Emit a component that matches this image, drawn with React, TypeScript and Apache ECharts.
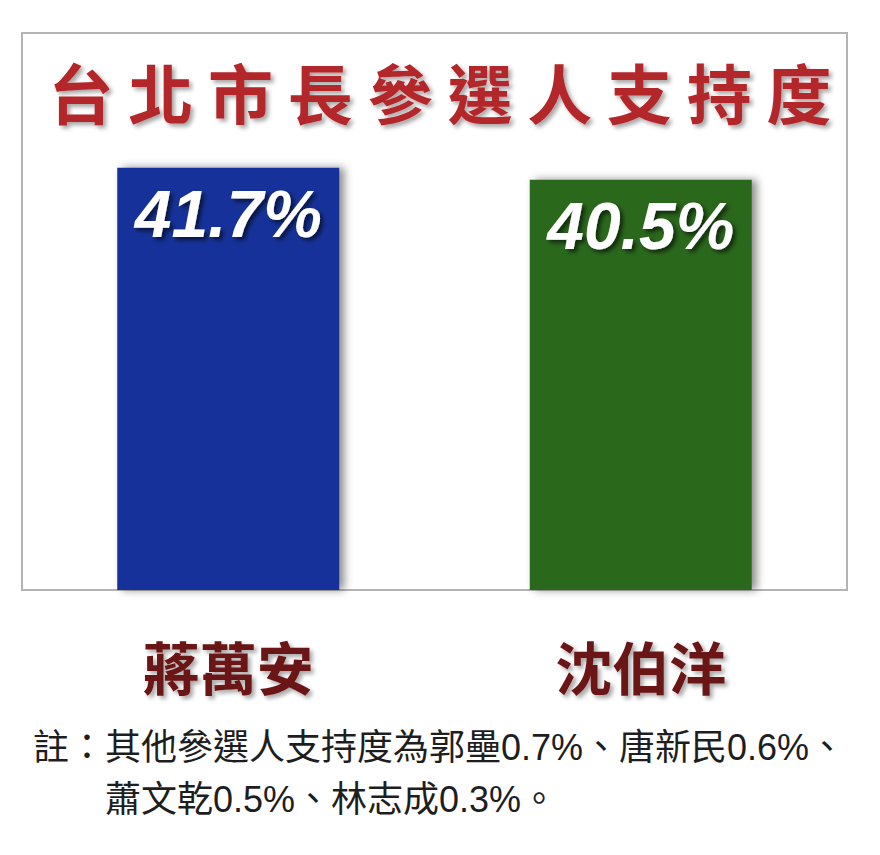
import { useEffect, useRef } from 'react'
import * as echarts from 'echarts'

const candidates = ['蔣萬安', '沈伯洋']
const support = [41.7, 40.5]
const barColors = ['#13329a', '#2c671d']
const titleText = '台 北 市 長 參 選 人 支 持 度'
const noteLines = [
  '註：其他參選人支持度為郭壘0.7%、唐新民0.6%、',
  '\u3000\u3000蕭文乾0.5%、林志成0.3%。'
]

const cjk = "'Noto Sans CJK TC', 'Noto Sans CJK SC', sans-serif"

export default function App() {
  const ref = useRef<HTMLDivElement | null>(null)

  useEffect(() => {
    document.body.style.margin = '0'
    if (!ref.current) return
    const chart = echarts.init(ref.current, null, { renderer: 'svg' })

    chart.setOption({
      animation: false,
      backgroundColor: '#ffffff',
      title: [
        {
          text: titleText,
          left: 'center',
          top: 53,
          textStyle: {
            color: '#b3282b',
            fontSize: 65,
            fontWeight: 'bold',
            fontFamily: cjk,
            textShadowColor: 'rgba(0,0,0,0.35)',
            textShadowBlur: 4,
            textShadowOffsetX: 3,
            textShadowOffsetY: 3
          }
        },
        {
          text: noteLines.join('\n'),
          left: 28,
          top: 716,
          textStyle: {
            color: '#1e1e1e',
            fontSize: 36,
            fontWeight: 'normal',
            lineHeight: 52,
            fontFamily: "'Liberation Sans', " + cjk
          }
        }
      ],
      grid: {
        left: 22,
        right: 33,
        top: 33,
        bottom: 265,
        show: true,
        borderColor: '#b4b4b4',
        borderWidth: 2,
        backgroundColor: 'transparent'
      },
      xAxis: {
        type: 'category',
        data: candidates,
        axisLine: { show: false },
        axisTick: { show: false },
        axisLabel: {
          margin: 46,
          color: '#6a1212',
          fontSize: 57,
          fontWeight: 'bold',
          fontFamily: cjk,
          textShadowColor: 'rgba(0,0,0,0.35)',
          textShadowBlur: 4,
          textShadowOffsetX: 3,
          textShadowOffsetY: 3
        }
      },
      yAxis: {
        type: 'value',
        min: 0,
        max: 55,
        show: false,
        splitLine: { show: false }
      },
      series: [
        {
          type: 'bar',
          barWidth: 222,
          data: support.map((v, i) => ({
            value: v,
            itemStyle: { color: barColors[i] }
          })),
          itemStyle: {
            shadowColor: 'rgba(0,0,0,0.45)',
            shadowBlur: 8,
            shadowOffsetX: 5,
            shadowOffsetY: 0
          },
          label: {
            show: true,
            position: 'insideTop',
            distance: 13,
            formatter: '{c}%',
            color: '#ffffff',
            fontSize: 66,
            fontWeight: 'bold',
            fontStyle: 'italic',
            fontFamily: "'Liberation Sans Narrow', 'Liberation Sans', sans-serif",
            textShadowColor: 'rgba(0,0,0,0.6)',
            textShadowBlur: 4,
            textShadowOffsetX: 3,
            textShadowOffsetY: 3
          }
        }
      ]
    })

    return () => {
      chart.dispose()
    }
  }, [])

  return <div ref={ref} style={{ width: 880, height: 855 }} />
}
